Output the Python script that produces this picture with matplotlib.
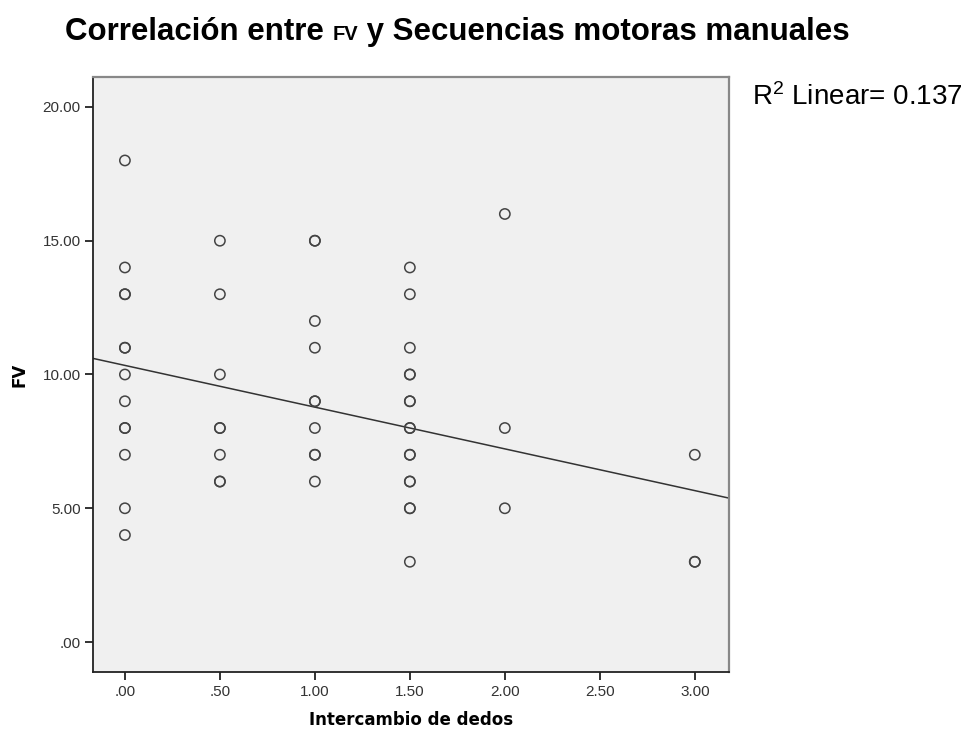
import matplotlib
matplotlib.use("Agg")
import matplotlib.pyplot as plt
from matplotlib.ticker import FuncFormatter
import numpy as np

plt.rcParams["mathtext.fontset"] = "custom"
plt.rcParams["mathtext.rm"] = "Liberation Sans"
plt.rcParams["mathtext.it"] = "Liberation Sans"

# data (bold circles = repeated values, counted twice)
x_vals = [0.0] * 13 + [0.5] * 8 + [1.0] * 10 + [1.5] * 16 + [2.0] * 3 + [3.0] * 3
fv_vals = [18, 14, 13, 13, 11, 11, 10, 9, 8, 8, 7, 5, 4,
           15, 13, 10, 8, 8, 7, 6, 6,
           15, 15, 12, 11, 9, 9, 8, 7, 7, 6,
           14, 13, 11, 10, 10, 9, 9, 8, 8, 7, 7, 6, 6, 5, 5, 3,
           16, 8, 5,
           7, 3, 3]

# fit line as drawn in the picture
fit_intercept = 10.34
fit_slope = -1.56
r2_text = r"R$^{\mathrm{2}}$ Linear= 0.137"

x_ticks = [0, 0.5, 1.0, 1.5, 2.0, 2.5, 3.0]
y_ticks = [0, 5, 10, 15, 20]


def spss_fmt(v, pos=None):
    s = "%.2f" % v
    if s.startswith("0."):
        s = s[1:]
    return s


fig = plt.figure(figsize=(9.71, 7.31), dpi=100)
ax = fig.add_axes([93 / 971, 1 - 672 / 731, 636 / 971, 595 / 731])
ax.set_facecolor("#f0f0f0")

ax.scatter(x_vals, fv_vals, s=55, facecolors="none", edgecolors="#444444",
           linewidths=1.1, zorder=3)

xlim = (-0.168, 3.18)
ylim = (-1.12, 21.12)
xs = np.array(xlim)
ax.plot(xs, fit_intercept + fit_slope * xs, color="#333333", lw=1.1, zorder=2)

ax.set_xlim(xlim)
ax.set_ylim(ylim)
ax.set_xticks(x_ticks)
ax.set_yticks(y_ticks)
ax.xaxis.set_major_formatter(FuncFormatter(spss_fmt))
ax.yaxis.set_major_formatter(FuncFormatter(spss_fmt))
ax.tick_params(direction="out", length=6, width=1.3, colors="#222222",
               labelsize=11, labelcolor="#333333", pad=3)
for lab in ax.get_xticklabels() + ax.get_yticklabels():
    lab.set_fontfamily("Liberation Sans")

for side in ["left", "bottom"]:
    ax.spines[side].set_color("#222222")
    ax.spines[side].set_linewidth(1.3)
for side in ["top", "right"]:
    ax.spines[side].set_color("#888888")
    ax.spines[side].set_linewidth(1.6)

ax.set_xlabel("Intercambio de dedos", fontsize=12, fontweight="bold",
              family="DejaVu Sans", labelpad=9)
ax.set_ylabel("FV", fontsize=12, fontweight="bold", family="DejaVu Sans")
ax.yaxis.set_label_coords((29 - 93) / 636, 0.5)

fig.text(752 / 971, 1 - 97 / 731, r2_text, fontsize=20,
         family="Liberation Sans", va="center", ha="left")

# title with a smaller "FV" in the middle
pieces = [("Correlación entre ", 22.5), ("FV", 14.5), (" y Secuencias motoras manuales", 22.5)]
renderer = fig.canvas.get_renderer()
x0 = 65 / 971
for txt, size in pieces:
    t = fig.text(x0, 1 - 40 / 731, txt, fontsize=size, fontweight="bold",
                 family="Liberation Sans", va="baseline", ha="left")
    bb = t.get_window_extent(renderer=renderer)
    x0 = bb.x1 / fig.bbox.width

fig.savefig("out.png", dpi=100)
